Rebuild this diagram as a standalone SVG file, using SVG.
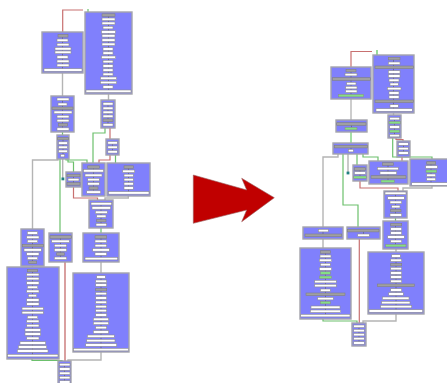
<svg xmlns="http://www.w3.org/2000/svg" width="447" height="383" viewBox="0 0 447 383">
<style>
.n{fill:#8080fc;stroke:#a4a4ac;stroke-width:1.4}
.w{fill:#ffffff;stroke:#8c8c8c;stroke-width:0.6}
.g{fill:#a0a0a0;stroke:#808080;stroke-width:0.6}
.gr{fill:#84e084;stroke:#8c8c8c;stroke-width:0.6}
.sp{stroke:#505070;stroke-width:0.6}
.cg{fill:none;stroke:#b4b4b4;stroke-width:1.4}
.cgr{fill:none;stroke:#6cc06c;stroke-width:1.2}
.cr{fill:none;stroke:#c87070;stroke-width:1.2}
rect.w,rect.g,rect.gr{height:2.6px}
</style>
<rect width="447" height="383" fill="#ffffff"/>
<g id="connectors">
<path class="cr" d="M62.7,32 V10 H83"/>
<path class="cgr" d="M88,9 V12"/>
<path class="cg" d="M62.5,73 V96"/>
<path class="cg" d="M108.5,94 V100"/>
<path class="cgr" d="M62.5,132 V135"/>
<path class="cr" d="M110,128 V139"/>
<path class="cgr" d="M105,128 V133 H93 V163"/>
<path class="cgr" d="M115.5,155 V163"/>
<path class="cr" d="M110,155 V160 H99 V163"/>
<path class="cg" d="M58,159 V160 H32.5 V229"/>
<path class="cg" d="M62.7,159 V178"/>
<path class="cgr" d="M60,159 V233"/>
<path class="cgr" d="M66,159 V160 H87 V163"/>
<path class="cgr" d="M68,159 V162 H73.5 V172"/>
<path class="cr" d="M73.5,187 V198 H97.5 V200"/>
<path class="cg" d="M128.3,196 V198 H105 V200"/>
<path class="cgr" d="M101,228 V233"/>
<path class="cg" d="M101,262 V273"/>
<path class="cg" d="M32.5,266 V267"/>
<path class="cr" d="M65,262 V361" style="stroke:#d08888;stroke-width:1.6"/>
<path class="cgr" d="M32,359 V360.5 H62 V361"/>
<path class="cg" d="M101,352 V360 H68 V361"/>
<path class="cr" d="M351,67 V51.5 H372"/>
<path class="cgr" d="M377,50 V55" style="stroke:#90d890;stroke-width:1.8"/>
<path class="cg" d="M351,99 V120" style="stroke:#c8c8c8;stroke-width:1.8"/>
<path class="cgr" d="M351,132 V143" style="stroke:#90d890;stroke-width:1.6"/>
<path class="cg" d="M393.5,113 V115"/>
<path class="cr" d="M396,138 V139.5 H403 V141"/>
<path class="cgr" d="M392.7,138 V157 H432 V159"/>
<path class="cr" d="M402,157 V161"/>
<path class="cg" d="M338,154 V157 H323 V227"/>
<path class="cgr" d="M343,154 V205 H358 V227"/>
<path class="cg" d="M348,154 V172"/>
<path class="cgr" d="M357,154 V165"/>
<path class="cgr" d="M363,154 V157 H378 V161"/>
<path class="cr" d="M360,181 V188 H398 V191"/>
<path class="cg" d="M432,186 V188 H403 V191"/>
<path class="cgr" d="M395.5,218 V221"/>
<path class="cg" d="M323,239 V248"/>
<path class="cr" d="M359.3,239 V323"/>
<path class="cg" d="M396,249 V252"/>
<path class="cgr" d="M323,319 V321 H357 V323"/>
<path class="cg" d="M396,314 V321 H363 V323"/>
<rect x="61.5" y="177.5" width="2.8" height="2.8" fill="#208080"/>
<rect x="346.6" y="171.6" width="2.8" height="2.8" fill="#208080"/>
</g>
<g id="arrow">
<polygon points="193.3,175 246.7,190 241.7,178.3 274.3,197.7 241.7,221.7 246.7,210 193.3,223.3" fill="#c00000" stroke="#9a6060" stroke-width="0.6"/>
</g>
<g id="nodeA">
<rect class="n" x="42" y="32" width="41" height="41"/>
<line class="sp" x1="62.5" y1="36" x2="62.5" y2="69"/>
<rect class="g" x="58" y="34.5" width="10"/>
<rect class="w" x="57" y="39" width="11"/>
<rect class="w" x="57" y="43.3" width="12"/>
<rect class="w" x="55" y="47.5" width="16"/>
<rect class="w" x="55" y="51" width="16"/>
<rect class="w" x="57" y="55.8" width="11"/>
<rect class="w" x="57" y="60" width="12"/>
<rect class="w" x="57" y="64" width="12"/>
<rect class="w" x="44" y="68.7" width="38"/>
</g>
<g id="nodeB">
<rect class="n" x="85" y="12" width="47" height="82"/>
<line class="sp" x1="108.5" y1="15" x2="108.5" y2="91"/>
<rect class="g" x="102" y="13.8" width="13"/>
<rect class="w" x="102" y="18" width="13"/>
<rect class="w" x="102" y="22" width="13"/>
<rect class="w" x="103" y="26.3" width="10"/>
<rect class="w" x="101.5" y="30.7" width="14"/>
<rect class="w" x="102" y="34.5" width="13"/>
<rect class="w" x="102" y="38.8" width="13"/>
<rect class="w" x="102" y="43" width="13"/>
<rect class="w" x="103" y="47.7" width="10"/>
<rect class="w" x="103" y="51.8" width="10"/>
<rect class="w" x="101.5" y="56" width="14"/>
<rect class="w" x="103" y="60.3" width="10"/>
<rect class="w" x="103" y="64.7" width="10"/>
<rect class="w" x="103" y="68.8" width="10"/>
<rect class="w" x="103" y="73" width="10"/>
<rect class="w" x="100.5" y="77" width="16"/>
<rect class="w" x="100.5" y="81.2" width="16"/>
<rect class="w" x="103" y="85.7" width="10"/>
<rect class="w" x="86" y="90" width="45"/>
</g>
<g id="nodeC">
<rect class="n" x="51" y="96" width="23" height="36"/>
<line class="sp" x1="62.5" y1="99" x2="62.5" y2="129"/>
<rect class="w" x="57" y="98" width="12"/>
<rect class="w" x="58" y="103" width="9"/>
<rect class="g" x="52" y="107" width="21"/>
<rect class="w" x="54" y="111" width="18"/>
<rect class="w" x="57" y="115.3" width="12"/>
<rect class="w" x="57" y="119.3" width="12"/>
<rect class="g" x="58.5" y="123.5" width="9"/>
<rect class="w" x="57" y="127.8" width="12"/>
</g>
<g id="nodeD">
<rect class="n" x="101" y="100" width="14" height="28"/>
<line class="sp" x1="108" y1="103" x2="108" y2="125"/>
<rect class="w" x="103" y="102.5" width="10"/>
<rect class="w" x="103" y="107" width="10"/>
<rect class="w" x="103" y="111" width="10"/>
<rect class="w" x="103" y="115" width="10"/>
<rect class="g" x="103" y="119" width="10"/>
<rect class="w" x="103" y="123.5" width="10"/>
</g>
<g id="nodeE">
<rect class="n" x="57" y="135" width="12" height="24"/>
<line class="sp" x1="63" y1="138" x2="63" y2="155"/>
<rect class="g" x="57.7" y="137.3" width="10.6"/>
<rect class="w" x="58.5" y="141.8" width="9"/>
<rect class="w" x="58.5" y="146" width="9"/>
<rect class="w" x="58.5" y="150" width="9"/>
<rect class="w" x="60.7" y="154.3" width="4"/>
</g>
<g id="nodeF">
<rect class="n" x="106" y="139" width="13" height="16"/>
<line class="sp" x1="112.5" y1="142" x2="112.5" y2="152"/>
<rect class="w" x="107.8" y="141.5" width="9.5"/>
<rect class="w" x="107.8" y="146" width="9.5"/>
<rect class="w" x="107.8" y="150.5" width="9.5"/>
</g>
<g id="nodeG">
<rect class="n" x="82" y="163" width="23" height="33"/>
<line class="sp" x1="93.5" y1="166" x2="93.5" y2="192"/>
<rect class="g" x="87.7" y="165.8" width="11.6"/>
<rect class="w" x="83.5" y="169.5" width="20"/>
<rect class="w" x="85" y="174" width="17"/>
<rect class="w" x="87.7" y="178.3" width="11.6"/>
<rect class="w" x="87.7" y="182.5" width="11.6"/>
<rect class="g" x="89" y="186.8" width="9"/>
<rect class="w" x="86.7" y="190.8" width="14"/>
</g>
<g id="nodeH">
<rect class="n" x="107" y="163" width="43" height="33"/>
<line class="sp" x1="128.5" y1="166" x2="128.5" y2="192"/>
<rect class="g" x="124" y="165.8" width="9.3"/>
<rect class="w" x="122.7" y="170" width="12"/>
<rect class="w" x="124" y="174.2" width="9.3"/>
<rect class="w" x="124" y="178.3" width="9.3"/>
<rect class="w" x="124" y="182.5" width="9.3"/>
<rect class="w" x="124" y="186.7" width="9.3"/>
<rect class="w" x="108.5" y="191.6" width="40.5"/>
</g>
<g id="nodeI">
<rect class="n" x="66" y="172" width="15" height="15"/>
<line class="sp" x1="73.5" y1="175" x2="73.5" y2="184"/>
<rect class="g" x="67" y="174.2" width="13"/>
<rect class="w" x="68" y="178.3" width="11"/>
<rect class="g" x="67" y="182.6" width="13"/>
</g>
<g id="nodeJ">
<rect class="n" x="89" y="200" width="24" height="28"/>
<line class="sp" x1="101" y1="203" x2="101" y2="225"/>
<rect class="w" x="91" y="202.4" width="20.7"/>
<rect class="w" x="92" y="206.6" width="18.7"/>
<rect class="w" x="95.3" y="211" width="12"/>
<rect class="w" x="96.7" y="215" width="9.3"/>
<rect class="g" x="96.7" y="219.3" width="9.3"/>
<rect class="w" x="96" y="223.4" width="10.7"/>
</g>
<g id="nodeK">
<rect class="n" x="83" y="233" width="36" height="29"/>
<line class="sp" x1="101" y1="236" x2="101" y2="258"/>
<rect class="g" x="95" y="235.7" width="11.7"/>
<rect class="w" x="95" y="240" width="11.7"/>
<rect class="w" x="95" y="244.3" width="11.7"/>
<rect class="w" x="92.7" y="248.6" width="16.6"/>
<rect class="w" x="95" y="252.7" width="11.7"/>
<rect class="w" x="85" y="257.3" width="32.7"/>
</g>
<g id="nodeL">
<rect class="n" x="21" y="229" width="23" height="37"/>
<line class="sp" x1="32.5" y1="232" x2="32.5" y2="262"/>
<rect class="w" x="27.3" y="231.7" width="10.4"/>
<rect class="w" x="26.7" y="236" width="12.3"/>
<rect class="w" x="27.3" y="240" width="10.4"/>
<rect class="g" x="22.3" y="244.3" width="21"/>
<rect class="w" x="24" y="248.6" width="17.3"/>
<rect class="w" x="26.7" y="252.7" width="12.3"/>
<rect class="w" x="27.3" y="257" width="10.4"/>
<rect class="g" x="28.7" y="261" width="8"/>
</g>
<g id="nodeM">
<rect class="n" x="49" y="233" width="23" height="29"/>
<line class="sp" x1="60.5" y1="236" x2="60.5" y2="258"/>
<rect class="g" x="50" y="235.7" width="21.3"/>
<rect class="w" x="51.7" y="240" width="17.6"/>
<rect class="w" x="54.3" y="244.3" width="12.4"/>
<rect class="w" x="54.3" y="248.6" width="12.4"/>
<rect class="g" x="56.7" y="252.7" width="7.6"/>
<rect class="w" x="54.3" y="257" width="12.4"/>
</g>
<g id="nodeO">
<rect class="n" x="7" y="267" width="52" height="92"/>
<line class="sp" x1="32.5" y1="270" x2="32.5" y2="355"/>
<rect class="g" x="27.3" y="269.3" width="10.4"/>
<rect class="w" x="26.7" y="273.3" width="12.3"/>
<rect class="w" x="26.7" y="277.3" width="12.3"/>
<rect class="w" x="26.7" y="281.7" width="12.3"/>
<rect class="w" x="27.3" y="286" width="10.4"/>
<rect class="w" x="26.7" y="290" width="12.3"/>
<rect class="w" x="28.3" y="294.3" width="8.4"/>
<rect class="w" x="26.7" y="298.7" width="12.3"/>
<rect class="w" x="26.7" y="302.7" width="12.3"/>
<rect class="w" x="22" y="307.3" width="21.3"/>
<rect class="w" x="22" y="311.3" width="21.3"/>
<rect class="w" x="27.3" y="316" width="10.4"/>
<rect class="w" x="26.7" y="320" width="12.3"/>
<rect class="w" x="26.7" y="324.3" width="12.3"/>
<rect class="w" x="25" y="328.7" width="15.7"/>
<rect class="w" x="25" y="332.7" width="15.7"/>
<rect class="w" x="26.7" y="337" width="12.3"/>
<rect class="w" x="20" y="341.7" width="25.7"/>
<rect class="w" x="18.3" y="345.7" width="28.4"/>
<rect class="w" x="17.3" y="349.7" width="30.7"/>
<rect class="w" x="7.5" y="354.3" width="50.5"/>
</g>
<g id="nodeP">
<rect class="n" x="73" y="273" width="56" height="79"/>
<line class="sp" x1="101" y1="276" x2="101" y2="349"/>
<rect class="w" x="96.7" y="275.7" width="8.6"/>
<rect class="w" x="95.7" y="280" width="11"/>
<rect class="w" x="95.7" y="283.7" width="11"/>
<rect class="g" x="95.7" y="288.3" width="11"/>
<rect class="w" x="95.7" y="292.3" width="11"/>
<rect class="w" x="95.7" y="296.7" width="11"/>
<rect class="w" x="95.7" y="301" width="11"/>
<rect class="w" x="95.7" y="305.3" width="11"/>
<rect class="w" x="95.7" y="309.3" width="11"/>
<rect class="w" x="95.7" y="313.7" width="11"/>
<rect class="w" x="93.3" y="318" width="15.4"/>
<rect class="w" x="93.3" y="322" width="15.4"/>
<rect class="w" x="95.7" y="326.3" width="11"/>
<rect class="w" x="93.3" y="330.7" width="15.4"/>
<rect class="w" x="87.3" y="335" width="27"/>
<rect class="w" x="86.7" y="339.3" width="28.3"/>
<rect class="w" x="85.7" y="343.7" width="31"/>
<rect class="w" x="73.5" y="348.3" width="55"/>
</g>
<g id="nodeN">
<rect class="n" x="58" y="361" width="13" height="24"/>
<line class="sp" x1="64.5" y1="364" x2="64.5" y2="383"/>
<rect class="w" x="59.5" y="363.3" width="10.5"/>
<rect class="w" x="59.5" y="367.7" width="10.5"/>
<rect class="w" x="59.5" y="372" width="10.5"/>
<rect class="w" x="59.5" y="376.3" width="10.5"/>
<rect class="w" x="59.5" y="380.7" width="10.5"/>
</g>
<g id="nodeQ">
<rect class="n" x="331" y="67" width="40" height="32"/>
<line class="sp" x1="351" y1="70" x2="351" y2="95"/>
<rect class="g" x="346" y="69.3" width="10"/>
<rect class="w" x="345" y="73.3" width="12"/>
<rect class="g" x="332.3" y="77.7" width="38"/>
<rect class="w" x="346.7" y="82.3" width="9.3"/>
<rect class="w" x="345.7" y="86.3" width="11.3"/>
<rect class="w" x="345.7" y="90" width="11.3"/>
<rect class="gr" x="338.3" y="94.3" width="25.4"/>
</g>
<g id="nodeR">
<rect class="n" x="373" y="55" width="41" height="58"/>
<line class="sp" x1="393.5" y1="58" x2="393.5" y2="109"/>
<rect class="g" x="388.3" y="57.3" width="11.7"/>
<rect class="w" x="388.3" y="62" width="11.7"/>
<rect class="g" x="375" y="66" width="38.3"/>
<rect class="w" x="388.3" y="70.7" width="11.7"/>
<rect class="w" x="388.3" y="74.7" width="11.7"/>
<rect class="w" x="389" y="79" width="10"/>
<rect class="w" x="390" y="83" width="8.3"/>
<rect class="w" x="387.3" y="87.3" width="13.7"/>
<rect class="w" x="389" y="91.7" width="10"/>
<rect class="w" x="389" y="95.7" width="10"/>
<rect class="g" x="375" y="100" width="38.3"/>
<rect class="w" x="390" y="104.7" width="8.3"/>
<rect class="w" x="376" y="108.7" width="36.3"/>
</g>
<g id="nodeS">
<rect class="n" x="336" y="120" width="31" height="12"/>
<line class="sp" x1="351.5" y1="124" x2="351.5" y2="128"/>
<rect class="g" x="336.7" y="122.7" width="29.3"/>
<rect class="gr" x="345" y="127.3" width="12"/>
</g>
<g id="nodeT">
<rect class="n" x="333" y="143" width="35" height="11"/>
<line class="sp" x1="351" y1="147" x2="351" y2="150"/>
<rect class="g" x="334.3" y="145.3" width="33.4"/>
<rect class="w" x="348.3" y="149.3" width="5"/>
</g>
<g id="nodeU">
<rect class="n" x="388" y="115" width="13" height="23"/>
<line class="sp" x1="394.5" y1="118" x2="394.5" y2="135"/>
<rect class="w" x="389.7" y="117.3" width="10"/>
<rect class="gr" x="389" y="121.3" width="11.3"/>
<rect class="w" x="389.7" y="125.7" width="10"/>
<rect class="gr" x="389.7" y="130" width="10"/>
<rect class="w" x="389.7" y="134.3" width="10"/>
</g>
<g id="nodeV">
<rect class="n" x="397" y="141" width="13" height="16"/>
<line class="sp" x1="403.5" y1="144" x2="403.5" y2="153"/>
<rect class="w" x="398.3" y="142.7" width="10"/>
<rect class="w" x="398.3" y="147.3" width="10"/>
<rect class="w" x="398.3" y="151.7" width="10"/>
</g>
<g id="nodeY">
<rect class="n" x="353" y="165" width="14" height="16"/>
<line class="sp" x1="360" y1="168" x2="360" y2="177"/>
<rect class="g" x="354.3" y="167.7" width="11.4"/>
<rect class="w" x="354.3" y="171.7" width="11.4"/>
<rect class="gr" x="353.7" y="176" width="12.6"/>
</g>
<g id="nodeZ">
<rect class="n" x="369" y="161" width="39" height="23"/>
<line class="sp" x1="388" y1="164" x2="388" y2="181"/>
<rect class="g" x="382.3" y="162.7" width="11"/>
<rect class="w" x="377.3" y="167.3" width="21"/>
<rect class="w" x="380" y="171.7" width="16.7"/>
<rect class="g" x="371" y="175.7" width="35"/>
<rect class="gr" x="381" y="180" width="13.3"/>
</g>
<g id="nodeAA">
<rect class="n" x="410" y="159" width="38" height="27"/>
<line class="sp" x1="431" y1="162" x2="431" y2="183"/>
<rect class="g" x="426.7" y="161.7" width="9"/>
<rect class="w" x="425.7" y="165.7" width="11.7"/>
<rect class="gr" x="426" y="170" width="10.7"/>
<rect class="w" x="426.7" y="174" width="9"/>
<rect class="w" x="426.7" y="178" width="9"/>
<rect class="w" x="411.7" y="182.7" width="36"/>
</g>
<g id="nodeBB">
<rect class="n" x="384" y="191" width="23" height="27"/>
<line class="sp" x1="395.5" y1="193" x2="395.5" y2="214"/>
<rect class="w" x="385" y="192" width="21"/>
<rect class="w" x="387.7" y="196.7" width="16.6"/>
<rect class="w" x="390" y="201" width="11.7"/>
<rect class="w" x="391.7" y="205.3" width="8.3"/>
<rect class="g" x="390.7" y="209.3" width="10.3"/>
<rect class="w" x="390" y="213.7" width="11.7"/>
</g>
<g id="nodeCC">
<rect class="n" x="383" y="221" width="25" height="28"/>
<line class="sp" x1="395.5" y1="224" x2="395.5" y2="245"/>
<rect class="g" x="390.7" y="223.3" width="11"/>
<rect class="w" x="390.7" y="227.7" width="11"/>
<rect class="w" x="390.7" y="231.7" width="11"/>
<rect class="w" x="387.7" y="235.7" width="16.6"/>
<rect class="w" x="390.7" y="240" width="11"/>
<rect class="gr" x="385.7" y="244.3" width="20.3"/>
</g>
<g id="nodeW">
<rect class="n" x="303" y="227" width="40" height="12"/>
<line class="sp" x1="323" y1="231" x2="323" y2="235"/>
<rect class="w" x="318.3" y="229.3" width="10"/>
<rect class="g" x="305" y="234" width="36.7"/>
</g>
<g id="nodeX">
<rect class="n" x="347" y="227" width="33" height="12"/>
<line class="sp" x1="363.5" y1="231" x2="363.5" y2="235"/>
<rect class="g" x="347.6" y="229.3" width="31.4"/>
<rect class="w" x="357.7" y="234" width="11.6"/>
</g>
<g id="nodeDD">
<rect class="n" x="300" y="248" width="51" height="71"/>
<line class="sp" x1="325.5" y1="251" x2="325.5" y2="315"/>
<rect class="g" x="320.3" y="250.7" width="10"/>
<rect class="w" x="320" y="255" width="11"/>
<rect class="w" x="319.3" y="259" width="12.3"/>
<rect class="w" x="320.3" y="263.3" width="10"/>
<rect class="w" x="319.3" y="267.7" width="12.3"/>
<rect class="gr" x="320.3" y="271.7" width="10"/>
<rect class="gr" x="319.3" y="276" width="12.3"/>
<rect class="w" x="314.7" y="280.3" width="21.6"/>
<rect class="w" x="314.7" y="284.3" width="21.6"/>
<rect class="w" x="320.3" y="289" width="10"/>
<rect class="g" x="306" y="293" width="39"/>
<rect class="w" x="317.7" y="297.3" width="15.6"/>
<rect class="gr" x="320.3" y="301.3" width="10"/>
<rect class="w" x="311" y="306" width="29"/>
<rect class="w" x="310.3" y="310" width="30.4"/>
<rect class="w" x="300.7" y="314.3" width="49.3"/>
</g>
<g id="nodeEE">
<rect class="n" x="368" y="252" width="56" height="62"/>
<line class="sp" x1="396" y1="255" x2="396" y2="310"/>
<rect class="w" x="391.7" y="254.7" width="8.6"/>
<rect class="w" x="390.7" y="259" width="11"/>
<rect class="g" x="390.7" y="263.3" width="11"/>
<rect class="w" x="390.7" y="267.3" width="11"/>
<rect class="w" x="390.7" y="271.7" width="11"/>
<rect class="w" x="390.7" y="275.7" width="11"/>
<rect class="w" x="390.7" y="280" width="11"/>
<rect class="g" x="377.3" y="284" width="37"/>
<rect class="w" x="390.7" y="288.7" width="11"/>
<rect class="w" x="388.7" y="292.7" width="14.6"/>
<rect class="w" x="382.3" y="297" width="26.7"/>
<rect class="w" x="381.7" y="301.3" width="28.3"/>
<rect class="w" x="380.7" y="305.3" width="31"/>
<rect class="w" x="369" y="309.7" width="53.7"/>
</g>
<g id="nodeFF">
<rect class="n" x="352" y="323" width="14" height="23"/>
<line class="sp" x1="359" y1="326" x2="359" y2="342"/>
<rect class="w" x="353.7" y="325" width="10.6"/>
<rect class="w" x="353.7" y="329.3" width="10.6"/>
<rect class="w" x="353.7" y="333.3" width="10.6"/>
<rect class="w" x="353.7" y="337.3" width="10.6"/>
<rect class="w" x="353.7" y="341.7" width="10.6"/>
</g>
</svg>
